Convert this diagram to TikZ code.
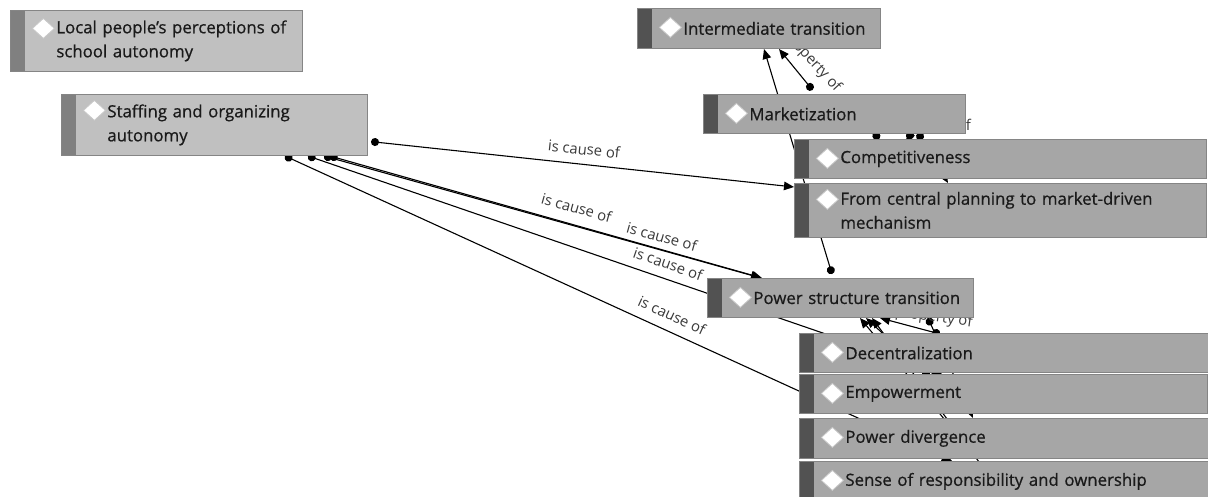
\documentclass[tikz,border=0pt]{standalone}
\usepackage{fontspec}
\setmainfont{Open Sans}
\newfontfamily\cardfont{Open Sans}[FakeBold=0.7]
\usetikzlibrary{arrows.meta,calc}

\definecolor{darkfill}{HTML}{A6A6A6}
\definecolor{darkbar}{HTML}{525252}
\definecolor{lightfill}{HTML}{C0C0C0}
\definecolor{lightbar}{HTML}{808080}
\definecolor{cardline}{HTML}{858585}
\definecolor{cardtext}{HTML}{1A1A1A}
\definecolor{linktext}{HTML}{3A3A3A}

% left indent of the card text, after the bar and the diamond
\newcommand\cardindent{\hspace*{46pt}}

\tikzset{
  % width, height, diamond centre below the top, fill, bar colour
  card/.style n args={5}{
    rectangle, anchor=north west, draw=cardline, line width=0.8pt,
    fill=#4, minimum width=#1, minimum height=#2, text width=#1,
    inner xsep=0pt, inner ysep=0pt, align=left,
    font=\cardfont\fontsize{16.8}{24}\selectfont, text=cardtext,
    path picture={
      \fill[#5] (path picture bounding box.north west)
        rectangle ([xshift=15pt]path picture bounding box.south west);
      \filldraw[fill=white, draw=black!22, line width=0.8pt]
        ($(path picture bounding box.north west)+(22,#3)$) --
        ($(path picture bounding box.north west)+(33,{#3-10})$) --
        ($(path picture bounding box.north west)+(44,#3)$) --
        ($(path picture bounding box.north west)+(33,{#3+10})$) -- cycle;
    }},
  darkcard/.style n args={3}{card={#1}{#2}{#3}{darkfill}{darkbar}},
  lightcard/.style n args={3}{card={#1}{#2}{#3}{lightfill}{lightbar}},
  link/.style={draw=black, line width=1.1pt,
    {Circle[length=8pt]}-{Triangle[length=10pt,width=8.5pt]}},
  linklabel/.style={font=\fontsize{14.8}{16}\selectfont, text=linktext, inner sep=1pt},
}

\begin{document}
\begin{tikzpicture}[x=1pt,y=-1pt]
\useasboundingbox (0,0) rectangle (1208,497);
\fill[white] (0,0) rectangle (1208,497);

% ---- connector end points ----
\coordinate (st-a) at (371,141.6);
\coordinate (st-b) at (330,156);
\coordinate (st-c) at (324,156);
\coordinate (st-d) at (308,156);
\coordinate (st-e) at (285,156);
\coordinate (fc-in) at (794,187);
\coordinate (ps-in1) at (762,278);
\coordinate (ps-in2) at (761,278);
\coordinate (em-in) at (942,374);
\coordinate (se-in) at (952,461);
\coordinate (ps-out) at (832,274);
\coordinate (it-in1) at (764,49);
\coordinate (mk-out1) at (812.5,90);
\coordinate (it-in2) at (779,49);
\coordinate (mk-out2) at (918,133);
\coordinate (fc-in2) at (948,183);
\coordinate (mk-out3) at (876,132);
\coordinate (co-in1) at (877,142);
\coordinate (mk-out4) at (912,132);
\coordinate (co-in2) at (906,142);
\coordinate (de-out) at (940,334);
\coordinate (em-out) at (929,376);
\coordinate (pd-out) at (950,426);
\coordinate (se-out) at (985,470);
\coordinate (ps-b1) at (880,318);
\coordinate (ps-b2) at (866,318);
\coordinate (ps-b3) at (860,318);
\coordinate (ps-b4) at (872,318);
\coordinate (ps-out2) at (928,318);
\coordinate (pd-in) at (973,418);

% ---- connectors ----
\draw[link] (st-a) -- node[linklabel, pos=.5, sloped, above=8pt] {is cause of} (fc-in);
\draw[link] (st-b) -- node[linklabel, pos=.56, sloped, above=10pt] {is cause of} (ps-in1);
\draw[link] (st-c) -- node[linklabel, pos=.765, sloped, above=6pt] {is cause of} (ps-in2);
\draw[link] (st-d) -- node[linklabel, pos=.56, sloped, above=8pt] {is cause of} (em-in);
\draw[link] (st-e) -- node[linklabel, pos=.57, sloped, above=9pt] {is cause of} (se-in);
\draw[link] (ps-out) -- (it-in1);
\draw[link] (mk-out1) -- (it-in2);
\draw[link] (mk-out2) -- (fc-in2);
\draw[link] (mk-out3) -- (co-in1);
\draw[link] (mk-out4) -- (co-in2);
\draw[link] (de-out) -- (ps-b1);
\draw[link] (em-out) -- (ps-b2);
\draw[link] (pd-out) -- (ps-b3);
\draw[link] (se-out) -- (ps-b4);
\draw[link] (ps-out2) -- (pd-in);

% labels of the property links, mostly covered by the cards
\node[linklabel, rotate=-47] (lab-it) at (807,56) {is property of};
\node[linklabel, anchor=base east] (lab-mk) at (972,131) {is property of};
\node[linklabel, anchor=base east, rotate=-8] (lab-ps) at (973,327) {is property of};

% ---- cards ----
\node[lightcard={292pt}{61pt}{18}] (local) at (10,10)
  {\cardindent Local people’s perceptions of\\\cardindent school autonomy};
\node[lightcard={306pt}{61pt}{16}] (staff) at (61,94)
  {\cardindent Staffing and organizing\\\cardindent autonomy};
\node[darkcard={243pt}{40pt}{19}] (inter) at (637,8)
  {\cardindent Intermediate transition};
\node[darkcard={262pt}{39pt}{19}] (market) at (703,94)
  {\cardindent Marketization};
\node[darkcard={412pt}{39pt}{19}] (compet) at (794,139)
  {\cardindent Competitiveness};
\node[darkcard={412pt}{54pt}{16}] (central) at (794,183)
  {\cardindent From central planning to market-driven\\\cardindent mechanism};
\node[darkcard={266pt}{39pt}{19}] (power) at (707,278)
  {\cardindent Power structure transition};
\node[darkcard={409pt}{39pt}{19}] (decent) at (799,333)
  {\cardindent Decentralization};
\node[darkcard={408pt}{39pt}{19}] (empower) at (799,374)
  {\cardindent Empowerment};
\node[darkcard={409pt}{40pt}{19}] (diverge) at (799,418)
  {\cardindent Power divergence};
\node[darkcard={409pt}{40pt}{19}] (sense) at (799,461)
  {\cardindent Sense of responsibility and ownership};
\end{tikzpicture}
\end{document}
